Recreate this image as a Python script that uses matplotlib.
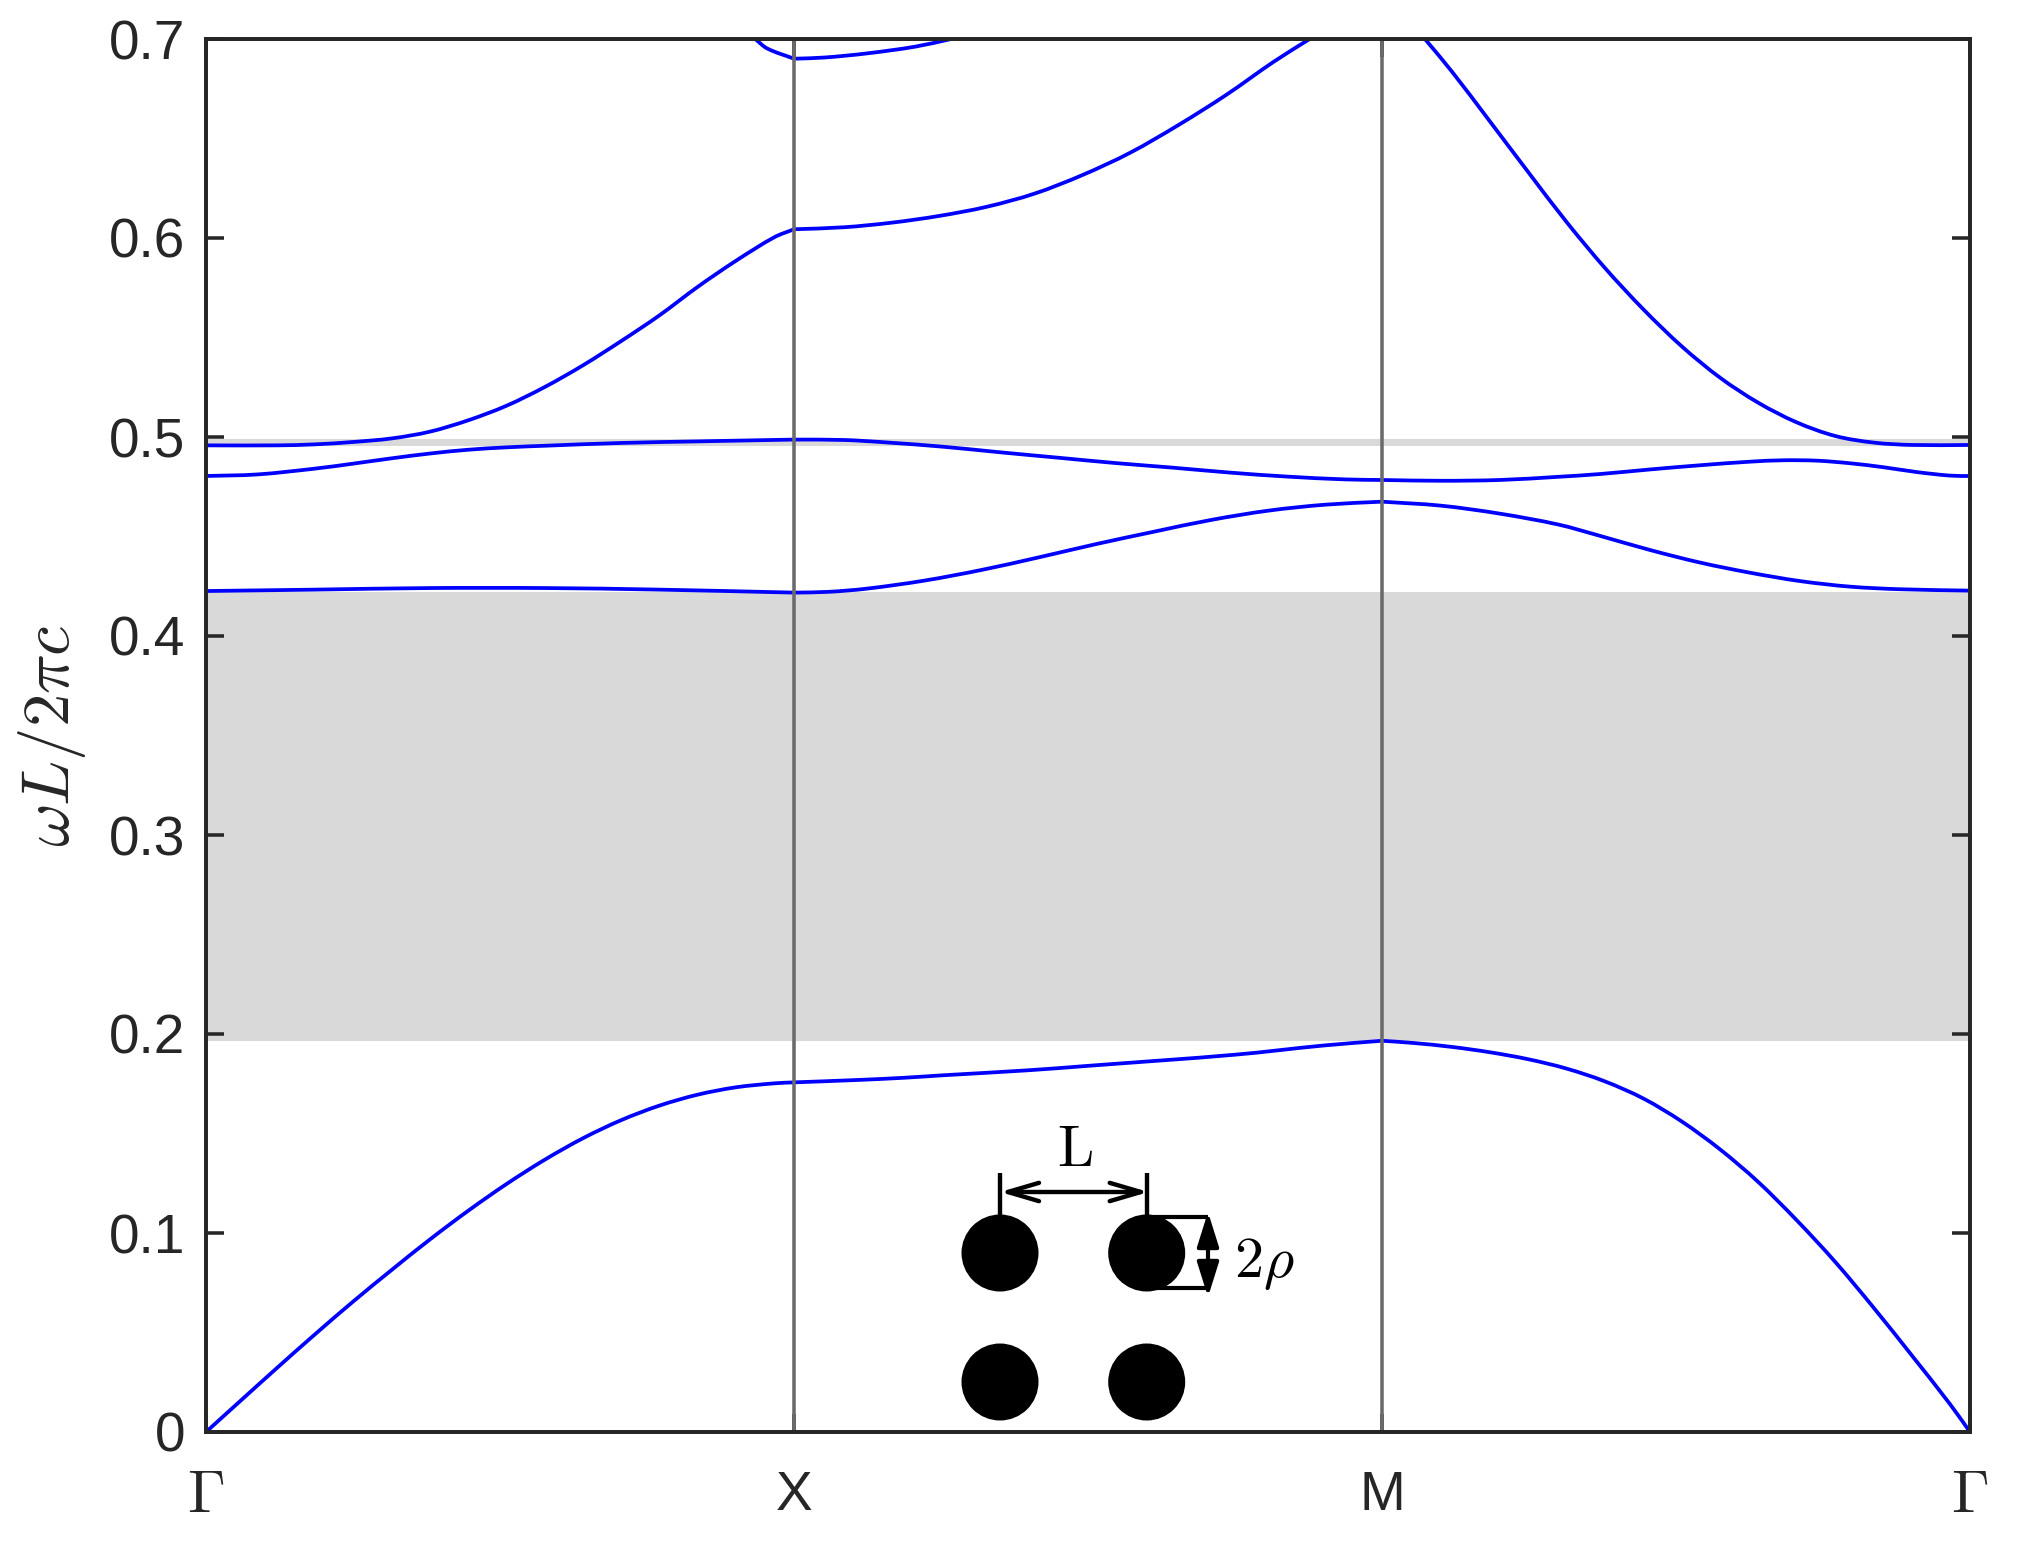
import matplotlib
matplotlib.use("Agg")
import matplotlib.pyplot as plt
from matplotlib.patches import Circle, FancyArrowPatch, PathPatch
from matplotlib.path import Path

plt.rcParams['font.family'] = ['Liberation Sans', 'DejaVu Sans']
plt.rcParams['mathtext.fontset'] = 'cm'

INK = '#262626'
BLUE = '#0000ff'
GAP = '#d9d9d9'
VLINE = '#6a6a6a'

y_ticks = [0, 0.1, 0.2, 0.3, 0.4, 0.5, 0.6, 0.7]
y_labels = ['0', '0.1', '0.2', '0.3', '0.4', '0.5', '0.6', '0.7']
x_ticks = [0, 1, 2, 3]
x_labels = ['$\\Gamma$', 'X', 'M', '$\\Gamma$']
gaps = [(0.1963, 0.4221), (0.4956, 0.4990)]

band1_x = [0, .055, .120, .185, .250, .316, .381, .446, .511, .576, .641, .706, .771, .836, .901, .966, 1,
           1.10, 1.187, 1.25, 1.40, 1.50, 1.75, 1.90, 2,
           2.053, 2.119, 2.184, 2.249, 2.314, 2.379, 2.445, 2.510, 2.575, 2.640, 2.705, 2.771, 2.836, 2.901, 2.966, 3]
band1_y = [0, .0147, .0320, .0490, .0655, .0815, .0968, .1112, .1246, .1368, .1476, .1567, .1640, .1695, .1732, .1752, .1757,
           .1768, .1780, .1792, .1818, .1840, .1896, .1942, .1966,
           .1955, .1935, .1908, .1873, .1826, .1762, .1675, .1560, .1420, .1256, .1065, .0854, .0625, .0385, .0140, 0]

band3_x = [0, .185, .381, .576, .771, 1,
           1.059, 1.124, 1.221, 1.319, 1.416, 1.514, 1.612, 1.709, 1.807, 1.904, 2,
           2.1, 2.2, 2.3, 2.371, 2.456, 2.541, 2.626, 2.711, 2.796, 2.881, 3]
band3_y = [.4226, .4233, .4241, .4241, .4233, .4218,
           .4222, .4238, .4278, .4332, .4395, .4462, .4524, .4583, .4630, .4660, .4675,
           .4655, .4615, .4560, .4503, .4432, .4369, .4318, .4276, .4248, .4235, .4228]

band4_x = [0, .088, .185, .250, .316, .381, .446, .511, .576, .706, .836, 1,
           1.085, 1.156, 1.254, 1.351, 1.449, 1.547, 1.644, 1.742, 1.839, 1.937, 2,
           2.1, 2.2, 2.3, 2.371, 2.456, 2.541, 2.626, 2.682, 2.74, 2.796, 2.853, 2.909, 2.966, 3]
band4_y = [.4804, .4812, .4841, .4866, .4893, .4917, .4936, .4948, .4956, .4970, .4978, .4987,
           .4985, .4973, .4951, .4923, .4896, .4869, .4846, .4821, .4801, .4787, .4784,
           .4780, .4784, .4800, .4814, .4837, .4858, .4876, .4883, .4881, .4868, .4848, .4824, .4806, .4804]

band5_x = [0, .120, .185, .250, .316, .381, .446, .511, .576, .641, .706, .771, .836, .901, .966, 1,
           1.085, 1.166, 1.247, 1.328, 1.410, 1.491, 1.572, 1.654, 1.735, 1.816, 1.877]
band5_y = [.4958, .4958, .4963, .4975, .4993, .5027, .5084, .5157, .5251, .5360, .5482, .5611, .5754, .5885, .6003, .6044,
           .6054, .6077, .6111, .6157, .6224, .6317, .6429, .6568, .6719, .6886, .7000]

band5b_x = [2.073, 2.119, 2.184, 2.249, 2.314, 2.379, 2.445, 2.510, 2.575, 2.640, 2.705, 2.771, 2.836, 2.901, 3]
band5b_y = [.7000, .6836, .6584, .6330, .6080, .5850, .5640, .5455, .5298, .5172, .5074, .5005, .4972, .4960, .4960]

band6_x = [.934, .954, 1, 1.052, 1.125, 1.207, 1.267]
band6_y = [.7000, .6953, .6901, .6907, .6928, .6962, .7000]

bands = [(band1_x, band1_y), (band3_x, band3_y), (band4_x, band4_y),
         (band5_x, band5_y), (band5b_x, band5b_y), (band6_x, band6_y)]


def curve_through(xs, ys, corners=(1, 2)):
    """Bezier path through the read points, with a corner at the X and M nodes."""
    verts, codes = [(xs[0], ys[0])], [Path.MOVETO]
    parts, start = [], 0
    for i in range(1, len(xs)):
        if xs[i] in corners or i == len(xs) - 1:
            parts.append((start, i))
            start = i
    for a, b in parts:
        slopes = []
        for i in range(a, b + 1):
            l, r = max(i - 1, a), min(i + 1, b)
            slopes.append((ys[r] - ys[l]) / (xs[r] - xs[l]))
        for i in range(a, b):
            h = xs[i + 1] - xs[i]
            m0, m1 = slopes[i - a], slopes[i + 1 - a]
            verts += [(xs[i] + h / 3, ys[i] + m0 * h / 3),
                      (xs[i + 1] - h / 3, ys[i + 1] - m1 * h / 3),
                      (xs[i + 1], ys[i + 1])]
            codes += [Path.CURVE4] * 3
    return Path(verts, codes)


W, H = 2025, 1550
fig = plt.figure(figsize=(W / 300, H / 300), dpi=300)
ax = fig.add_axes([206 / W, (H - 1432) / H, 1764 / W, 1393 / H])

for lo, hi in gaps:
    ax.axhspan(lo, hi, color=GAP, lw=0, zorder=1)
for bx, by in bands:
    ax.add_patch(PathPatch(curve_through(bx, by), fill=False, ec=BLUE, lw=0.9, zorder=2, joinstyle='round'))
for v in x_ticks[1:3]:
    ax.axvline(v, color=VLINE, lw=0.85, zorder=3)

ax.set_xlim(0, 3)
ax.set_ylim(0, 0.7)
ax.set_yticks(y_ticks, y_labels)
ax.set_xticks(x_ticks, x_labels)
ax.tick_params(axis='both', direction='in', length=4.3, width=0.85, color=INK,
               labelcolor=INK, labelsize=13.2, top=True, right=True)
ax.tick_params(axis='y', pad=5)
ax.tick_params(axis='x', pad=9)
for lab, txt in zip(ax.get_xticklabels(), x_labels):
    if 'Gamma' in txt:
        lab.set_fontsize(14.5)
for s in ax.spines.values():
    s.set_linewidth(0.95)
    s.set_color(INK)
    s.set_zorder(5)
ax.set_axisbelow(False)
ax.set_ylabel('$\\omega L/2\\pi c$', fontsize=16, color=INK)
ax.yaxis.set_label_coords(-0.0670, 0.5)

# Schematic of the square lattice, placed in figure pixels
ov = fig.add_axes([0, 0, 1, 1], facecolor='none')
ov.set_xlim(0, W)
ov.set_ylim(H, 0)
ov.axis('off')
cx = [1000, 1146.7]
cy = [1253, 1382]
R = 38.5
for a in cx:
    for b in cy:
        ov.add_patch(Circle((a, b), R, fc='black', ec='none'))
lw = 1.0
for a in cx:
    ov.plot([a, a], [1173, 1216], color='black', lw=1.05, solid_capstyle='butt')
ov.plot([cx[1], 1208], [1217, 1217], color='black', lw=lw, solid_capstyle='butt')
ov.plot([cx[1], 1208], [1288, 1288], color='black', lw=lw, solid_capstyle='butt')
ov.add_patch(FancyArrowPatch((cx[0], 1192), (cx[1] + 2, 1192), arrowstyle='<->,head_length=7.5,head_width=2.2',
                             color='black', lw=1.05, shrinkA=0, shrinkB=0, mutation_scale=1))
ov.add_patch(FancyArrowPatch((1208, 1212), (1208, 1297), arrowstyle='<|-|>,head_length=7,head_width=2.2',
                             color='black', lw=1.0, shrinkA=0, shrinkB=0, mutation_scale=1))
ov.text(1075, 1166, '$\\mathrm{L}$', fontsize=14, color='black', ha='center', va='baseline')
ov.text(1234, 1277, '$2\\rho$', fontsize=14, color='black', ha='left', va='baseline')

fig.savefig('out.png', dpi=300, facecolor='white')
